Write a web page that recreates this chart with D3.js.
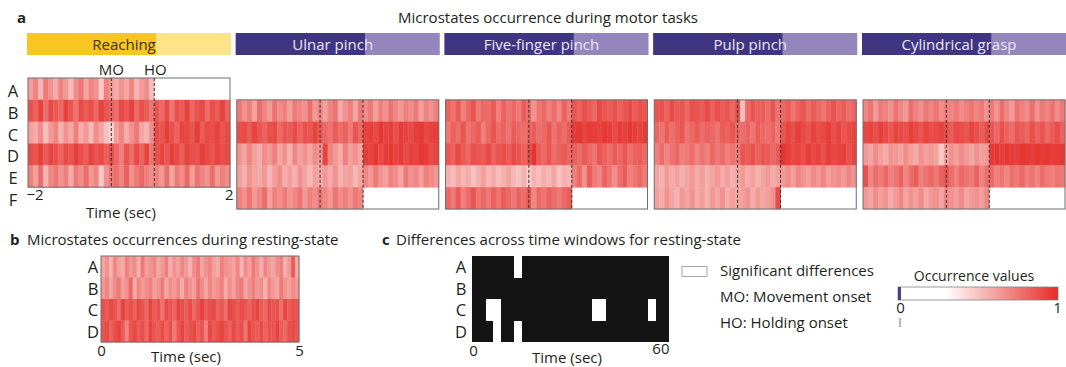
<!DOCTYPE html>
<html>
<head>
<meta charset="utf-8">
<script src="https://cdn.jsdelivr.net/npm/d3@7"></script>
<style>
  body { margin: 0; background: #fff; }
  text { font-family: "Open Sans", sans-serif; fill: #231f20; }
</style>
</head>
<body>
<svg id="fig" width="1066" height="367"></svg>
<script>
// ---------------- data ----------------
var states = ['A', 'B', 'C', 'D', 'E', 'F'];
var tasks = ['Reaching', 'Ulnar pinch', 'Five-finger pinch', 'Pulp pinch', 'Cylindrical grasp'];
var taskStates = [
  ['A', 'B', 'C', 'D', 'E'],
  ['B', 'C', 'D', 'E', 'F'],
  ['B', 'C', 'D', 'E', 'F'],
  ['B', 'C', 'D', 'E', 'F'],
  ['B', 'C', 'D', 'E', 'F']
];
var moTime = -0.35, hoTime = 0.5;   // sec
var binStart = -2, binSize = 0.1;   // 40 bins from -2 to 2 sec
var N = null;

// occurrence per 0.1 s bin (pre-MO | MO-HO | post-HO)
var reaching = [
  [.62,.70,.55,.74,.66,.58,.72,.64,.52,.68,.75,.60,.70,.66,.48,.72,.64, .58,.66,.60,.70,.55,.63,.68,.52, N,N,N,N,N,N,N,N,N,N,N,N,N,N,N],
  [.88,.82,.92,.78,.90,.85,.80,.93,.86,.76,.90,.84,.88,.80,.92,.86,.82, .78,.90,.85,.92,.80,.88,.84,.76, .86,.80,.90,.76,.88,.84,.92,.80,.86,.90,.78,.88,.84,.92,.82],
  [.62,.58,.68,.52,.64,.70,.56,.66,.60,.72,.58,.64,.54,.68,.60,.50,.45, .62,.70,.58,.66,.74,.60,.55,.68, .90,.86,.94,.88,.82,.92,.90,.86,.94,.84,.90,.88,.92,.86,.90],
  [.90,.86,.94,.84,.92,.88,.82,.90,.86,.94,.88,.84,.92,.86,.90,.82,.88, .80,.72,.86,.78,.90,.82,.92,.76, .88,.92,.86,.94,.90,.84,.92,.88,.86,.94,.90,.86,.92,.88,.90],
  [.72,.62,.78,.55,.70,.75,.66,.72,.58,.74,.68,.78,.64,.70,.48,.66,.74, .78,.70,.82,.66,.74,.80,.72,.68, .72,.64,.78,.60,.74,.68,.80,.62,.76,.70,.66,.78,.64,.72,.68]
];
var ulnarPinch = [
  [.74,.66,.72,.60,.78,.70,.64,.76,.68,.72,.62,.74,.70,.66,.78,.64,.70, .62,.70,.76,.58,.66,.72,.60,.74, .68,.74,.62,.72,.66,.76,.70,.64,.72,.68,.74,.62,.70,.66,.72],
  [.88,.90,.84,.92,.86,.82,.88,.90,.80,.86,.84,.90,.82,.88,.86,.92,.84, .80,.76,.84,.78,.82,.74,.86,.80, .92,.94,.90,.96,.92,.94,.88,.95,.92,.90,.94,.96,.90,.92,.94],
  [.66,.60,.70,.62,.58,.68,.64,.72,.60,.66,.56,.70,.62,.66,.60,.68,.64, .92,.70,.64,.58,.72,.62,.66,.60, .94,.92,.96,.90,.94,.96,.92,.95,.90,.94,.92,.96,.94,.90,.92],
  [.62,.56,.66,.60,.58,.64,.54,.62,.68,.58,.62,.56,.66,.60,.54,.62,.58, .64,.58,.66,.56,.60,.62,.54,.60, .70,.64,.74,.66,.62,.72,.68,.60,.74,.66,.70,.62,.72,.68,.64],
  [.72,.66,.76,.64,.70,.78,.62,.72,.68,.74,.66,.70,.76,.64,.72,.68,.74, .70,.64,.76,.68,.72,.66,.74,.70, N,N,N,N,N,N,N,N,N,N,N,N,N,N,N]
];
var fiveFinger = [
  [.82,.76,.84,.72,.80,.86,.74,.80,.78,.84,.72,.82,.76,.80,.74,.84,.78, .66,.76,.80,.72,.78,.70,.82,.74, .86,.82,.88,.84,.80,.90,.86,.84,.88,.82,.86,.90,.84,.88,.86],
  [.74,.82,.78,.86,.76,.80,.84,.72,.80,.86,.78,.82,.76,.84,.80,.78,.82, .84,.78,.80,.86,.76,.82,.78,.84, .94,.96,.92,.95,.94,.92,.96,.94,.90,.95,.93,.96,.94,.92,.95],
  [.86,.82,.90,.84,.80,.88,.86,.84,.90,.82,.86,.88,.84,.90,.86,.82,.88, .97,.84,.80,.86,.78,.82,.84,.80, .82,.78,.84,.80,.76,.86,.82,.78,.84,.80,.86,.78,.82,.84,.80],
  [.56,.52,.60,.54,.58,.50,.56,.62,.54,.58,.52,.56,.60,.54,.50,.56,.48, .56,.52,.58,.54,.60,.50,.56,.54, .72,.80,.66,.84,.74,.70,.82,.76,.68,.78,.84,.72,.76,.80,.74],
  [.80,.74,.84,.72,.78,.86,.76,.80,.74,.82,.76,.84,.80,.74,.82,.78,.86, .70,.80,.76,.82,.78,.74,.80,.84, N,N,N,N,N,N,N,N,N,N,N,N,N,N,N]
];
var pulpPinch = [
  [.86,.88,.82,.90,.84,.86,.80,.88,.86,.84,.90,.82,.88,.84,.86,.80,.88, .52,.80,.86,.82,.84,.78,.86,.76, .80,.84,.76,.82,.86,.78,.84,.80,.76,.82,.86,.80,.84,.78,.82],
  [.80,.76,.84,.78,.82,.86,.76,.80,.84,.78,.82,.80,.76,.84,.82,.86,.80, .78,.82,.76,.84,.80,.78,.82,.74, .86,.92,.88,.94,.90,.86,.92,.88,.90,.94,.88,.92,.86,.90,.92],
  [.72,.78,.70,.76,.80,.72,.74,.78,.70,.76,.72,.80,.74,.78,.72,.76,.74, .86,.84,.88,.82,.86,.84,.80,.84, .97,.94,.90,.92,.88,.94,.90,.92,.88,.94,.90,.92,.94,.88,.92],
  [.60,.56,.64,.58,.62,.56,.60,.64,.58,.62,.56,.60,.64,.58,.62,.56,.60, .64,.58,.62,.56,.60,.64,.58,.62, .64,.68,.62,.70,.66,.62,.68,.64,.70,.62,.66,.68,.64,.70,.66],
  [.62,.58,.66,.60,.56,.64,.60,.66,.58,.62,.56,.64,.60,.66,.58,.62,.60, .62,.66,.58,.64,.60,.62,.66,.90, N,N,N,N,N,N,N,N,N,N,N,N,N,N,N]
];
var cylindrical = [
  [.70,.76,.64,.74,.72,.66,.76,.70,.64,.78,.72,.66,.74,.70,.76,.68,.72, .70,.74,.68,.72,.76,.70,.74,.66, .74,.66,.78,.70,.64,.76,.72,.68,.78,.66,.74,.70,.76,.68,.74],
  [.90,.92,.88,.94,.90,.86,.92,.90,.88,.94,.90,.86,.92,.88,.90,.92,.88, .84,.90,.88,.86,.92,.88,.84,.90, .86,.80,.88,.82,.78,.86,.84,.80,.88,.82,.86,.80,.84,.88,.82],
  [.64,.60,.68,.62,.58,.66,.64,.60,.68,.62,.58,.66,.62,.64,.60,.48,.62, .66,.62,.68,.64,.60,.66,.62,.64, .95,.96,.94,.96,.95,.94,.96,.95,.94,.96,.95,.96,.94,.95,.96],
  [.88,.70,.78,.74,.80,.72,.76,.82,.70,.78,.84,.72,.76,.80,.74,.82,.86, .78,.72,.80,.76,.74,.82,.72,.78, .80,.72,.76,.70,.78,.74,.80,.72,.76,.70,.78,.74,.72,.76,.74],
  [.64,.60,.68,.62,.66,.58,.64,.70,.60,.66,.62,.68,.58,.64,.66,.60,.70, .66,.62,.68,.60,.64,.66,.62,.70, N,N,N,N,N,N,N,N,N,N,N,N,N,N,N]
];
var taskValues = [reaching, ulnarPinch, fiveFinger, pulpPinch, cylindrical];

// resting state, 50 bins of 0.1 s over 5 s
var restStates = ['A', 'B', 'C', 'D'];
var restValues = [
  [.60,.66,.55,.70,.62,.58,.72,.64,.68,.56,.74,.62,.66,.70,.60,.64,.72,.58,.66,.62,.70,.64,.56,.68,.74,.60,.66,.70,.62,.58,.72,.66,.64,.60,.70,.55,.68,.62,.74,.66,.58,.70,.64,.60,.68,.72,.56,.64,.84,.58],
  [.64,.70,.60,.68,.74,.62,.66,.80,.58,.70,.64,.68,.72,.62,.66,.74,.60,.68,.64,.70,.58,.72,.66,.62,.76,.68,.60,.70,.64,.66,.72,.58,.68,.62,.70,.74,.60,.66,.72,.64,.68,.56,.70,.64,.60,.74,.66,.62,.68,.64],
  [.88,.84,.90,.86,.78,.92,.84,.88,.82,.90,.86,.80,.92,.84,.88,.76,.90,.86,.82,.92,.88,.84,.90,.80,.86,.92,.84,.88,.90,.82,.86,.78,.92,.88,.84,.90,.86,.82,.88,.92,.84,.80,.90,.86,.88,.78,.92,.84,.88,.86],
  [.86,.90,.82,.88,.92,.84,.70,.86,.90,.84,.88,.80,.92,.86,.84,.90,.82,.88,.74,.86,.92,.84,.88,.90,.82,.86,.72,.90,.84,.88,.92,.86,.82,.90,.84,.88,.76,.92,.86,.84,.90,.82,.88,.86,.92,.84,.80,.88,.90,.86]
];
var restDuration = 5;

// differences across time windows (60 s split in 28 windows): significant cells
var diffWindows = 28, diffDuration = 60;
var sigCells = [['A', 6], ['C', 2], ['C', 3], ['D', 3], ['D', 6], ['C', 17], ['C', 18], ['C', 25]];

// ---------------- drawing ----------------
var svg = d3.select('#fig');

var color = d3.scaleLinear()
  .domain([0, 0.3, 1])
  .range(['#ffffff', '#ffffff', '#e42c27']);

var darkColors = ['#f8c620', '#403580', '#403580', '#403580', '#403580'];
var lightColors = ['#fde489', '#9485bd', '#9485bd', '#9485bd', '#9485bd'];
var labelColors = ['#3b3320', '#ebe8f4', '#ebe8f4', '#ebe8f4', '#ebe8f4'];

// titles
svg.append('text').attr('x', 17).attr('y', 23).style('font-weight', 'bold').style('font-size', '15px').text('a');
svg.append('text').attr('x', 548).attr('y', 23).attr('text-anchor', 'middle').style('font-size', '15px')
  .text('Microstates occurrence during motor tasks');

var y = d3.scaleBand().domain(states).range([78, 209]);

// row letters
svg.selectAll('text.row').data(states).enter().append('text')
  .attr('class', 'row')
  .attr('x', 13).attr('y', function(d) { return y(d) + y.bandwidth() / 2 + 8; })
  .attr('text-anchor', 'middle').style('font-size', '16.5px')
  .text(function(d) { return d; });

tasks.forEach(function(task, i) {
  var bx = 27 + i * 208.75, bw = 204;
  var x = d3.scaleLinear().domain([-2, 2]).range([bx + 1, bx + bw - 1]);
  var g = svg.append('g');

  // task bar
  g.append('rect').attr('x', bx).attr('y', 33).attr('width', bw).attr('height', 22).attr('fill', lightColors[i]);
  g.append('rect').attr('x', bx).attr('y', 33).attr('width', x(hoTime) + 2 - bx).attr('height', 22).attr('fill', darkColors[i]);
  g.append('text').attr('x', bx + bw / 2 - 5).attr('y', 49.5).attr('text-anchor', 'middle')
    .style('font-size', '15px').style('fill', labelColors[i]).text(task);

  var rows = taskStates[i];
  var top = y(rows[0]), bottom = y(rows[rows.length - 1]) + y.bandwidth();

  var cells = [];
  taskValues[i].forEach(function(row, r) {
    row.forEach(function(v, c) {
      if (v !== null) cells.push({ state: rows[r], t: binStart + c * binSize, v: v });
    });
  });

  g.selectAll('rect.cell').data(cells).enter().append('rect')
    .attr('class', 'cell')
    .attr('x', function(d) { return x(d.t); })
    .attr('y', function(d) { return y(d.state); })
    .attr('width', x(binSize) - x(0) + 0.4)
    .attr('height', y.bandwidth() + 0.4)
    .attr('fill', function(d) { return color(d.v); });

  g.append('rect').attr('x', x(-2)).attr('y', top).attr('width', x(2) - x(-2)).attr('height', bottom - top)
    .attr('fill', 'none').attr('stroke', '#6d6e71').attr('stroke-width', 1);

  // onsets
  g.selectAll('line.onset').data([moTime, hoTime]).enter().append('line')
    .attr('class', 'onset')
    .attr('x1', function(d) { return x(d); }).attr('x2', function(d) { return x(d); })
    .attr('y1', top).attr('y2', bottom)
    .attr('stroke', '#333').attr('stroke-width', 1).attr('stroke-dasharray', '3,2');

  if (i === 0) {
    g.append('text').attr('x', x(moTime)).attr('y', 75).attr('text-anchor', 'middle').style('font-size', '15px').text('MO');
    g.append('text').attr('x', x(hoTime) + 1).attr('y', 75).attr('text-anchor', 'middle').style('font-size', '15px').text('HO');

    var ax = g.append('g').attr('transform', 'translate(0,' + (bottom + 2) + ')')
      .call(d3.axisBottom(x).tickValues([-2, 2]).tickSize(0).tickPadding(0).tickFormat(d3.format('d')));
    ax.select('.domain').remove();
    ax.selectAll('text').style('font-size', '15px').style('font-family', '"Open Sans", sans-serif').attr('fill', '#231f20')
      .attr('text-anchor', function(d) { return d < 0 ? 'start' : 'end'; })
      .attr('dx', function(d) { return d < 0 ? -2 : 3; });
    g.append('text').attr('x', 121).attr('y', 218).attr('text-anchor', 'middle').style('font-size', '15px').text('Time (sec)');
  }
});

// ---------------- panel b ----------------
svg.append('text').attr('x', 10).attr('y', 245).style('font-weight', 'bold').style('font-size', '15px').text('b');
svg.append('text').attr('x', 27).attr('y', 245).style('font-size', '15px').text('Microstates occurrences during resting-state');

var yb = d3.scaleBand().domain(restStates).range([256, 342]);
var xb = d3.scaleLinear().domain([0, restDuration]).range([101, 299]);
var restCells = [];
restValues.forEach(function(row, r) {
  row.forEach(function(v, c) { restCells.push({ state: restStates[r], t: c * binSize, v: v }); });
});
svg.append('g').selectAll('rect').data(restCells).enter().append('rect')
  .attr('x', function(d) { return xb(d.t); })
  .attr('y', function(d) { return yb(d.state); })
  .attr('width', xb(binSize) - xb(0) + 0.4)
  .attr('height', yb.bandwidth() + 0.4)
  .attr('fill', function(d) { return color(d.v); });
svg.append('rect').attr('x', 101).attr('y', 256).attr('width', 198).attr('height', 86)
  .attr('fill', 'none').attr('stroke', '#6d6e71');

svg.append('g').selectAll('text').data(restStates).enter().append('text')
  .attr('x', 93).attr('y', function(d) { return yb(d) + yb.bandwidth() / 2 + 6.5; })
  .attr('text-anchor', 'middle').style('font-size', '16.5px').text(function(d) { return d; });

var axb = svg.append('g').attr('transform', 'translate(0,345)')
  .call(d3.axisBottom(xb).tickValues([0, restDuration]).tickSize(0).tickPadding(0).tickFormat(d3.format('d')));
axb.select('.domain').remove();
axb.selectAll('text').style('font-size', '15px').style('font-family', '"Open Sans", sans-serif').attr('fill', '#231f20');
svg.append('text').attr('x', 186).attr('y', 362).attr('text-anchor', 'middle').style('font-size', '15px').text('Time (sec)');

// ---------------- panel c ----------------
svg.append('text').attr('x', 382).attr('y', 245).style('font-weight', 'bold').style('font-size', '15px').text('c');
svg.append('text').attr('x', 396).attr('y', 245).style('font-size', '15px').text('Differences across time windows for resting-state');

var yc = d3.scaleBand().domain(restStates).range([256, 342]);
var xc = d3.scaleLinear().domain([0, diffDuration]).range([472, 669]);
var win = diffDuration / diffWindows;
svg.append('rect').attr('x', xc(0)).attr('y', 256).attr('width', xc(diffDuration) - xc(0)).attr('height', 86).attr('fill', '#141414');
svg.append('g').attr('shape-rendering', 'crispEdges').selectAll('rect').data(sigCells).enter().append('rect')
  .attr('x', function(d) { return xc(d[1] * win); })
  .attr('y', function(d) { return yc(d[0]); })
  .attr('width', xc(win) - xc(0) + 0.6)
  .attr('height', yc.bandwidth() + 0.6)
  .attr('fill', '#fff');

svg.append('g').selectAll('text').data(restStates).enter().append('text')
  .attr('x', 461).attr('y', function(d) { return yc(d) + yc.bandwidth() / 2 + 6.5; })
  .attr('text-anchor', 'middle').style('font-size', '16.5px').text(function(d) { return d; });

var axc = svg.append('g').attr('transform', 'translate(0,345)')
  .call(d3.axisBottom(xc).tickValues([0, diffDuration]).tickSize(0).tickPadding(0).tickFormat(d3.format('d')));
axc.select('.domain').remove();
axc.selectAll('text').style('font-size', '15px').style('font-family', '"Open Sans", sans-serif').attr('fill', '#231f20')
  .attr('text-anchor', function(d) { return d ? 'end' : 'middle'; })
  .attr('dx', function(d) { return d ? 0 : 1; })
  .attr('dy', function(d) { return d ? '0.62em' : '0.71em'; });
svg.append('text').attr('x', 567).attr('y', 363).attr('text-anchor', 'middle').style('font-size', '15px').text('Time (sec)');

// ---------------- legends ----------------
svg.append('rect').attr('x', 682).attr('y', 266.5).attr('width', 25).attr('height', 10)
  .attr('fill', 'none').attr('stroke', '#939598').attr('stroke-width', 0.8);
svg.append('text').attr('x', 720).attr('y', 276).style('font-size', '15px').text('Significant differences');
svg.append('text').attr('x', 720).attr('y', 302).style('font-size', '15px').text('MO: Movement onset');
svg.append('text').attr('x', 720).attr('y', 328).style('font-size', '15px').text('HO: Holding onset');

svg.append('text').attr('x', 974).attr('y', 281).attr('text-anchor', 'middle').style('font-size', '14px').text('Occurrence values');

var cx = d3.scaleLinear().domain([0, 1]).range([900, 1057]);
var grad = svg.append('defs').append('linearGradient').attr('id', 'occ');
grad.selectAll('stop').data(d3.range(0, 1.001, 0.1)).enter().append('stop')
  .attr('offset', function(d) { return (d * 100) + '%'; })
  .attr('stop-color', function(d) { return color(d); });
svg.append('rect').attr('x', 898).attr('y', 287).attr('width', 160).attr('height', 13)
  .attr('fill', 'url(#occ)').attr('stroke', '#808285').attr('stroke-width', 0.8);
svg.append('rect').attr('x', 898).attr('y', 287).attr('width', 3).attr('height', 13).attr('fill', '#4a3f8c');

var axo = svg.append('g').attr('transform', 'translate(0,302)')
  .call(d3.axisBottom(cx).tickValues([0, 1]).tickSize(0).tickPadding(0).tickFormat(d3.format('d')));
axo.select('.domain').remove();
axo.selectAll('text').style('font-size', '15px').style('font-family', '"Open Sans", sans-serif').attr('fill', '#231f20');
svg.append('line').attr('x1', cx(0)).attr('x2', cx(0)).attr('y1', 318).attr('y2', 327)
  .attr('stroke', '#6d6e71').attr('stroke-width', 1);
</script>
</body>
</html>
